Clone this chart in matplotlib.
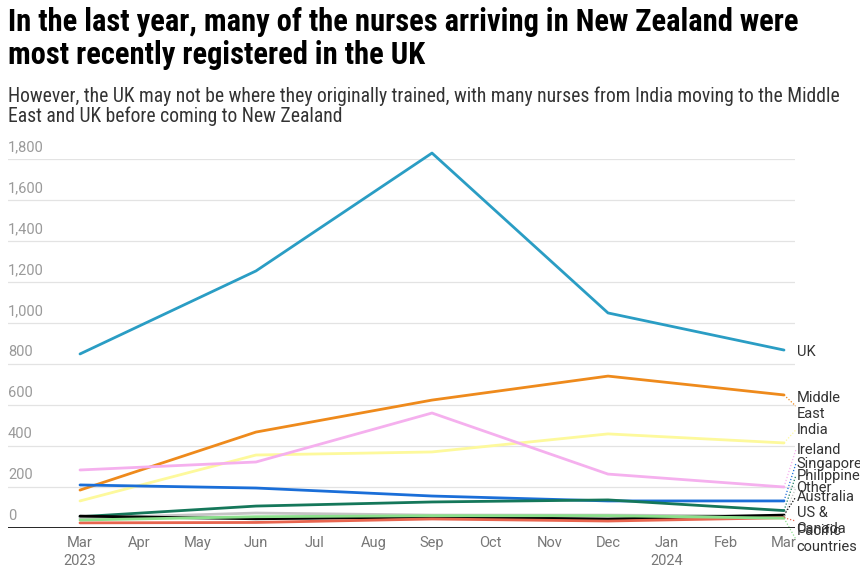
import numpy as np
import matplotlib
matplotlib.use("Agg")
import matplotlib.pyplot as plt
from matplotlib import font_manager

# quarterly points, month index from Mar 2023
months = [0, 3, 6, 9, 12]
month_labels = ["Mar", "Apr", "May", "Jun", "Jul", "Aug", "Sep", "Oct", "Nov",
                "Dec", "Jan", "Feb", "Mar"]
year_labels = {0: "2023", 10: "2024"}

series_names = ["UK", "Middle East", "India", "Ireland", "Singapore", "Philippines",
                "Other", "Australia", "US & Canada", "Pacific countries"]
uk = [849, 1254, 1829, 1049, 868]
middle_east = [185, 468, 624, 741, 649]
india = [132, 356, 371, 459, 415]
ireland = [283, 322, 561, 263, 200]
singapore = [210, 195, 156, 132, 132]
philippines = [55, 107, 127, 137, 85]
other = [48, 73, 63, 63, 58]
australia = [58, 45, 53, 44, 63]
us_canada = [25, 27, 44, 34, 50]
pacific = [39, 55, 60, 60, 48]

label_text = ["UK", "Middle\nEast", "India", "Ireland", "Singapore", "Philippines",
              "Other", "Australia", "US &\nCanada", "Pacific\ncountries"]
label_y = [859, 595, 478, 380, 312, 254, 195, 151, 34, -54]

colors = ["#2a9dc4", "#ee8a1c", "#fdf99c", "#f5b0ee", "#1a6ed8", "#15775a",
          "#c4c4c4", "#000000", "#e8654f", "#8be08b"]
data = [uk, middle_east, india, ireland, singapore, philippines, other,
        australia, us_canada, pacific]
draw_order = [9, 6, 5, 4, 3, 2, 1, 0, 8, 7]

names = {f.name for f in font_manager.fontManager.ttflist}
cond = "Roboto"
for cand in ["Roboto Condensed", "Liberation Sans Narrow", "Open Sans Condensed"]:
    if cand in names:
        cond = cand
        break

W, H = 860, 577
fig = plt.figure(figsize=(W / 100, H / 100), dpi=100)
fig.patch.set_facecolor("white")

x0, x1 = 8, 795
yb, yt = 528, 159
ax = fig.add_axes([x0 / W, 1 - yb / H, (x1 - x0) / W, (yb - yt) / H])
px_per_month = (784 - 80) / 12
ax.set_xlim((x0 - 80) / px_per_month, (x1 - 80) / px_per_month)
ax.set_ylim(0, 1800)
for s in ax.spines.values():
    s.set_visible(False)
ax.set_xticks([])
ax.set_yticks([])

for g in range(200, 2000, 200):
    ax.axhline(g, color="#e3e3e3", lw=0.9, zorder=0)
ax.axhline(0, color="#000000", lw=1.2, zorder=5)

for g in range(0, 2000, 200):
    ax.text(0, g + 25, f"{g:,}", transform=ax.get_yaxis_transform(),
            fontsize=10.5, color="#9a9a9a", family="Roboto", va="bottom", ha="left")

for i in draw_order:
    ax.plot(months, data[i], color=colors[i], lw=2.0, zorder=3 + i * 0.01,
            solid_capstyle="round", clip_on=False)

trans_lbl = ax.get_yaxis_transform()
for i in range(len(series_names)):
    ax.text(1.002, label_y[i], label_text[i], transform=trans_lbl, fontsize=10.5,
            color="#333333", family="Roboto", va="center", ha="left",
            linespacing=1.15, clip_on=False)
    if abs(label_y[i] - data[i][-1]) > 15:
        ax.plot([12, 12.2], [data[i][-1], label_y[i]], color=colors[i], lw=0.9,
                ls=(0, (1, 1.5)), clip_on=False, zorder=4)

for m, lab in enumerate(month_labels):
    ax.text(m, -38, lab, fontsize=10.5, color="#777777", family="Roboto",
            ha="center", va="top", clip_on=False)
for m, lab in year_labels.items():
    ax.text(m, -125, lab, fontsize=10.5, color="#777777", family="Roboto",
            ha="center", va="top", clip_on=False)

renderer = fig.canvas.get_renderer()


def fit(txt, width_px):
    bb = txt.get_window_extent(renderer)
    txt.set_fontsize(txt.get_fontsize() * width_px / bb.width)


t1 = fig.text(8 / W, 1 - 22 / H, "In the last year, many of the nurses arriving in New Zealand were",
              fontsize=19, weight="bold", family=cond, color="#000000", va="center")
t2 = fig.text(8 / W, 1 - 55 / H, "most recently registered in the UK",
              fontsize=19, weight="bold", family=cond, color="#000000", va="center")
fit(t1, 792)
t2.set_fontsize(t1.get_fontsize())

s1 = fig.text(8 / W, 1 - 96 / H,
              "However, the UK may not be where they originally trained, with many nurses from India moving to the Middle",
              fontsize=12.5, family=cond, color="#333333", va="center")
s2 = fig.text(8 / W, 1 - 116 / H, "East and UK before coming to New Zealand",
              fontsize=12.5, family=cond, color="#333333", va="center")
fit(s1, 835)
s2.set_fontsize(s1.get_fontsize())

fig.savefig("out.png", dpi=100, facecolor="white")
